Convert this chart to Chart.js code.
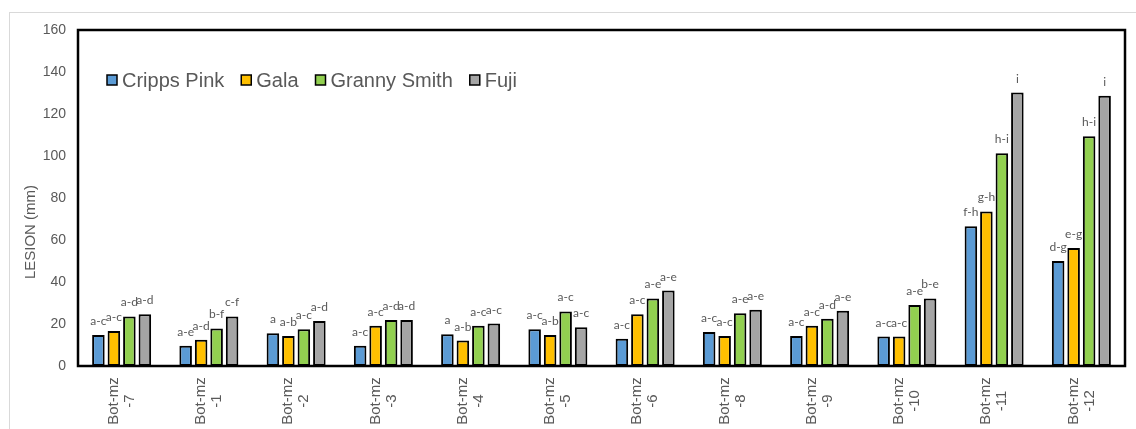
<!DOCTYPE html>
<html>
<head>
<meta charset="utf-8">
<script src="https://cdn.jsdelivr.net/npm/chart.js@4.4.1/dist/chart.umd.min.js"></script>
<style>
  html, body { margin: 0; padding: 0; background: #fff; }
  #frame { position: absolute; left: 9px; top: 12px; width: 1140px; height: 440px; border: 1px solid #d9d9d9; box-sizing: border-box; }
  #wrap { position: absolute; left: 0; top: 0; width: 1136px; height: 429px; }
</style>
</head>
<body>
<div id="frame"></div>
<div id="wrap"><canvas id="c" width="1136" height="429"></canvas></div>
<script>
const categories = [
  ['Bot-mz', '-7'], ['Bot-mz', '-1'], ['Bot-mz', '-2'], ['Bot-mz', '-3'],
  ['Bot-mz', '-4'], ['Bot-mz', '-5'], ['Bot-mz', '-6'], ['Bot-mz', '-8'],
  ['Bot-mz', '-9'], ['Bot-mz', '-10'], ['Bot-mz', '-11'], ['Bot-mz', '-12']
];
const seriesNames = ['Cripps Pink', 'Gala', 'Granny Smith', 'Fuji'];
const crippsPink  = [14.8, 9.7, 15.6, 9.7, 15.1, 17.5, 13.0, 16.2, 14.3, 14.0, 66.5, 50.0];
const gala        = [16.7, 12.5, 14.3, 19.2, 12.1, 14.8, 24.6, 14.3, 19.2, 14.0, 73.6, 56.2];
const grannySmith = [23.6, 17.9, 17.5, 21.9, 19.2, 26.0, 32.2, 25.1, 22.5, 29.0, 101.3, 109.4];
const fuji        = [24.6, 23.6, 21.4, 21.9, 20.2, 18.4, 35.9, 26.8, 26.3, 32.2, 130.2, 128.7];
const lettersCrippsPink  = ['a-c','a-e','a','a-c','a','a-c','a-c','a-c','a-c','a-c','f-h','d-g'];
const lettersGala        = ['a-c','a-d','a-b','a-c','a-b','a-b','a-c','a-c','a-c','a-c','g-h','e-g'];
const lettersGrannySmith = ['a-d','b-f','a-c','a-d','a-c','a-c','a-e','a-e','a-d','a-e','h-i','h-i'];
const lettersFuji        = ['a-d','c-f','a-d','a-d','a-c','a-c','a-e','a-e','a-e','b-e','i','i'];
const yTicks = [0, 20, 40, 60, 80, 100, 120, 140, 160];
const yTitle = 'LESION (mm)';

const colors = ['#5B9BD5', '#FFC000', '#92D050', '#A5A5A5'];
const textGray = '#595959';
const values = [crippsPink, gala, grannySmith, fuji];
const letters = [lettersCrippsPink, lettersGala, lettersGrannySmith, lettersFuji];

const decorPlugin = {
  id: 'decor',
  afterDatasetsDraw(chart) {
    const ctx = chart.ctx;
    const a = chart.chartArea;
    ctx.save();
    // plot frame
    ctx.strokeStyle = '#000';
    ctx.lineWidth = 2.5;
    ctx.strokeRect(a.left, a.top, a.right - a.left, a.bottom - a.top);
    // significance letters
    ctx.fillStyle = textGray;
    ctx.font = '12px Lato, "Open Sans", sans-serif';
    ctx.textAlign = 'center';
    ctx.textBaseline = 'alphabetic';
    chart.data.datasets.forEach((ds, di) => {
      const meta = chart.getDatasetMeta(di);
      meta.data.forEach((bar, i) => {
        ctx.fillText(ds.letters[i], bar.x, bar.y - 10);
      });
    });
    // x category labels (rotated, two centered lines)
    const xs = chart.scales.x;
    ctx.font = '15px "Liberation Sans", Arial, sans-serif';
    ctx.textBaseline = 'middle';
    ctx.textAlign = 'center';
    chart.data.labels.forEach((lab, i) => {
      const x = xs.getPixelForTick(i);
      const cy = a.bottom + 35;
      ctx.save();
      ctx.translate(x, cy);
      ctx.rotate(-Math.PI / 2);
      const n = lab.length;
      lab.forEach((line, li) => {
        const off = (li - (n - 1) / 2) * 16;
        ctx.fillText(line, 0, off);
      });
      ctx.restore();
    });
    // y axis title
    ctx.save();
    ctx.font = '15px "Liberation Sans", Arial, sans-serif';
    ctx.translate(31, (a.top + a.bottom) / 2 + 34);
    ctx.rotate(-Math.PI / 2);
    ctx.fillText(yTitle, 0, 0);
    ctx.restore();
    // legend inside plot area
    ctx.font = '20px "Liberation Sans", Arial, sans-serif';
    ctx.textAlign = 'left';
    ctx.textBaseline = 'middle';
    let lx = a.left + 29;
    const ly = a.top + 50;
    chart.data.datasets.forEach((ds) => {
      ctx.fillStyle = ds.backgroundColor;
      ctx.fillRect(lx, ly - 5, 10, 10);
      ctx.strokeStyle = '#000';
      ctx.lineWidth = 1.5;
      ctx.strokeRect(lx, ly - 5, 10, 10);
      ctx.fillStyle = textGray;
      ctx.fillText(ds.label, lx + 15, ly + 1);
      lx += 15 + ctx.measureText(ds.label).width + 17;
    });
    ctx.restore();
  }
};

new Chart(document.getElementById('c'), {
  type: 'bar',
  data: {
    labels: categories,
    datasets: seriesNames.map((name, i) => ({
      label: name,
      data: values[i],
      letters: letters[i],
      backgroundColor: colors[i],
      borderColor: '#000',
      borderWidth: 2,
      borderSkipped: false,
      categoryPercentage: 0.71,
      barPercentage: 0.81
    }))
  },
  options: {
    responsive: false,
    animation: false,
    devicePixelRatio: 1,
    layout: { padding: { top: 30, right: 11, left: 0, bottom: 0 } },
    plugins: { legend: { display: false }, tooltip: { enabled: false } },
    scales: {
      x: {
        grid: { display: false },
        border: { display: false },
        ticks: { display: false },
        afterFit(scale) { scale.height = 63; }
      },
      y: {
        min: 0, max: 160,
        afterBuildTicks(scale) { scale.ticks = yTicks.map(v => ({ value: v })); },
        grid: { display: false, drawTicks: false },
        border: { display: false },
        ticks: {
          padding: 12,
          color: textGray,
          font: { size: 14, family: '"Liberation Sans", Arial, sans-serif' }
        },
        afterFit(scale) { scale.width = 78; }
      }
    }
  },
  plugins: [decorPlugin]
});
</script>
</body>
</html>
